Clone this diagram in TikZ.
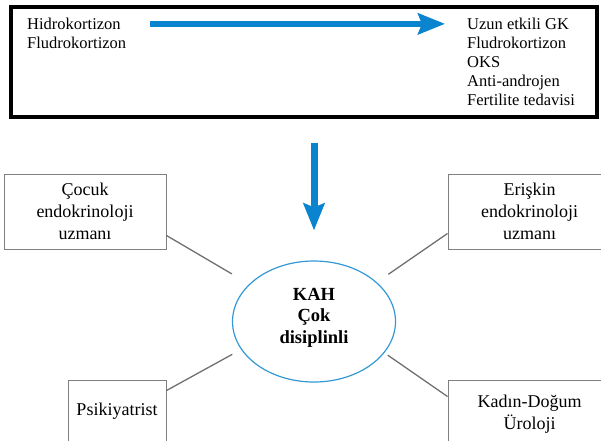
\documentclass[tikz,border=0pt]{standalone}
\usepackage{fontspec}
\setmainfont{Liberation Serif}
\usetikzlibrary{arrows.meta,shapes.geometric}
\definecolor{flowblue}{RGB}{10,132,206}
\definecolor{ringblue}{RGB}{52,152,214}
\definecolor{boxgray}{RGB}{128,128,128}
\definecolor{linkgray}{RGB}{112,112,112}
\begin{document}
\begin{tikzpicture}[x=1pt,y=-1pt,
  listtext/.style={inner sep=0pt, anchor=base west, font=\fontsize{16.5}{19}\selectfont},
  unitbox/.style={draw=boxgray, line width=1pt, inner sep=0pt, align=center,
    font=\fontsize{18}{21.7}\selectfont},
  link/.style={draw=linkgray, line width=1.3pt},
  bluearrow/.style={draw=flowblue, -{Stealth[length=27pt,width=21pt,inset=4pt]}},
]
\clip (0,0) rectangle (601,440);

% treatment panel
\node[draw=black, line width=3.5pt, minimum width=586pt, minimum height=110pt,
  inner sep=0pt] (frame) at (304,62) {};
\node[listtext] (hidro)   at (27,29.5)  {Hidrokortizon};
\node[listtext] (fludroA) at (27,48.5)  {Fludrokortizon};
\node[listtext] (uzun)    at (467,29.5) {Uzun etkili GK};
\node[listtext] (fludroB) at (467,48.5) {Fludrokortizon};
\node[listtext] (oks)     at (467,67)   {OKS};
\node[listtext] (anti)    at (467,86)   {Anti-androjen};
\node[listtext] (fert)    at (467,105)  {Fertilite tedavisi};
\draw[bluearrow, line width=5.5pt, shorten <=29pt, shorten >=22pt]
  (hidro.east) -- (hidro.east -| uzun.west);

% multidisciplinary team
\node[ellipse, draw=ringblue, line width=1.2pt, minimum width=163pt,
  minimum height=121pt, inner sep=0pt] (kah) at (314,321.5) {};
\node[inner sep=0pt, align=center, font=\bfseries\fontsize{18.5}{21.3}\selectfont]
  (kahtext) at ([yshift=3.7pt]kah.center) {KAH\\Çok\\disiplinli};

\node[unitbox, minimum width=162pt, minimum height=75pt] (cocuk) at (85,211.5)
  {Çocuk\\endokrinoloji\\uzmanı};
\node[unitbox, minimum width=163pt, minimum height=75pt] (eriskin) at (529.5,211.5)
  {Erişkin\\endokrinoloji\\uzmanı};
\node[unitbox, minimum width=98pt, minimum height=63pt] (psik) at (117,411.5)
  {Psikiyatrist};
\node[unitbox, minimum width=163pt, minimum height=68pt] (kadin) at (529.5,414)
  {Kadın-Doğum\\Üroloji};

\draw[bluearrow, line width=7pt, shorten <=24pt, shorten >=30pt]
  (frame.south -| kah.north) -- (kah.north);

\draw[link, shorten >=20pt] ([yshift=14pt]cocuk.south east) -- (kah.150);
\draw[link, shorten >=14pt] ([yshift=16pt]eriskin.south west) -- (kah.32);
\draw[link, shorten >=10pt] ([yshift=-11pt]psik.north east) -- (kah.201);
\draw[link, shorten >=4pt] ([yshift=-17pt]kadin.north west) -- (kah.336);
\end{tikzpicture}
\end{document}
